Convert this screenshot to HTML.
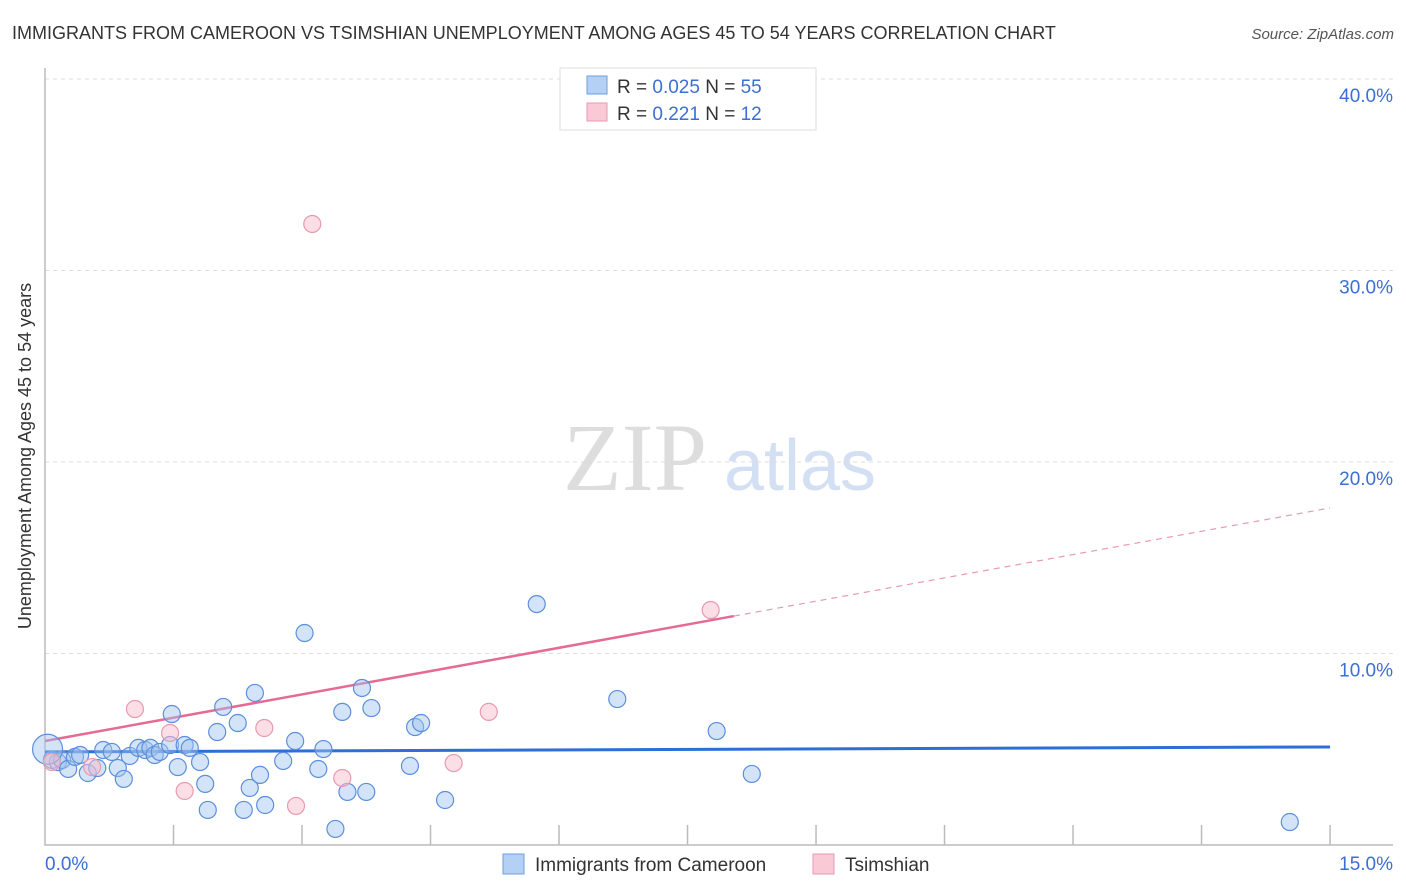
<!DOCTYPE html>
<html><head><meta charset="utf-8"><style>
body{margin:0;background:#fff;font-family:"Liberation Sans",sans-serif;}
svg{display:block}
</style></head><body>
<svg id="c" width="1406" height="892" xmlns="http://www.w3.org/2000/svg">
<text x="12" y="39" font-size="18" fill="#333">IMMIGRANTS FROM CAMEROON VS TSIMSHIAN UNEMPLOYMENT AMONG AGES 45 TO 54 YEARS CORRELATION CHART</text>
<text x="1394" y="39" font-size="15" fill="#555" font-style="italic" text-anchor="end">Source: ZipAtlas.com</text>
<text x="31" y="456" font-size="18" fill="#333" text-anchor="middle" transform="rotate(-90 31 456)">Unemployment Among Ages 45 to 54 years</text>
<g><text x="635" y="490" font-size="96" fill="#ddd" font-family="Liberation Serif,serif" text-anchor="middle">ZIP</text><text x="800" y="490" font-size="72" fill="#d3e0f3" text-anchor="middle">atlas</text></g>
<g id="grid"></g><g id="axes"></g><g id="lines"></g><g id="pts"></g>
<g>
<rect x="560" y="68" width="256" height="62" fill="#fff" stroke="#ddd"/>
<rect x="587" y="76" width="20" height="18" fill="#b5d0f5" stroke="#6d9de0"/>
<rect x="587" y="103" width="20" height="18" fill="#f9c9d6" stroke="#e89ab0"/>
<text x="617" y="93" font-size="19" fill="#333">R = <tspan fill="#3b6fd4">0.025</tspan>   N = <tspan fill="#3b6fd4">55</tspan></text>
<text x="617" y="120" font-size="19" fill="#333">R =  <tspan fill="#3b6fd4">0.221</tspan>   N =  <tspan fill="#3b6fd4">12</tspan></text>
</g>
<g>
<rect x="503" y="854" width="21" height="20" fill="#b5d0f5" stroke="#6d9de0"/>
<text x="535" y="871" font-size="19" fill="#333">Immigrants from Cameroon</text>
<rect x="813" y="854" width="21" height="20" fill="#f9c9d6" stroke="#e89ab0"/>
<text x="845" y="871" font-size="19" fill="#333">Tsimshian</text>
</g>
</svg>
<script>
const blueX=[0.08,0.15,0.20,0.27,0.35,0.41,0.50,0.61,0.68,0.78,0.85,0.92,0.99,1.09,1.17,1.23,1.28,1.34,1.48,1.46,1.55,1.63,1.69,1.81,1.87,1.90,2.01,2.08,2.25,2.32,2.39,2.45,2.51,2.57,2.78,2.92,3.03,3.19,3.25,3.39,3.47,3.53,3.70,3.75,3.81,4.26,4.32,4.39,4.67,5.74,6.68,7.84,8.25,14.53,0.03];
const blueY=[4.44,4.33,4.44,3.97,4.60,4.70,3.76,4.02,4.96,4.86,4.02,3.45,4.65,5.07,4.96,5.07,4.70,4.86,6.84,5.22,4.07,5.22,5.07,4.33,3.19,1.83,5.90,7.21,6.37,1.83,2.98,7.94,3.66,2.09,4.39,5.43,11.07,3.97,5.01,0.84,6.95,2.77,8.20,2.77,7.15,4.13,6.16,6.37,2.35,12.58,7.62,5.95,3.71,1.20,5.0];
const pinkX=[0.08,0.55,1.05,1.46,1.63,2.56,2.93,3.12,3.47,4.77,5.18,7.77];
const pinkY=[4.33,4.07,7.10,5.85,2.82,6.11,2.04,32.43,3.50,4.28,6.95,12.27];
const blueTrend=[4.86,5.12];
const pinkTrend=[5.43,17.6];
const yTicks=[10,20,30,40];
const xTickLabels=["0.0%","15.0%"];
const X=v=>45+v*85.67, Y=v=>845-v*19.15;
const NS="http://www.w3.org/2000/svg";
function mk(p,t,a){const e=document.createElementNS(NS,t);for(const k in a)e.setAttribute(k,a[k]);p.appendChild(e);return e;}
const grid=document.getElementById('grid'),axes=document.getElementById('axes'),lines=document.getElementById('lines'),pts=document.getElementById('pts');
yTicks.forEach(v=>{
 const l=mk(grid,'line',{x1:45,x2:1393,y1:Y(v),y2:Y(v),stroke:'#ddd','stroke-dasharray':'4 4'});
 
 
 const t=mk(grid,'text',{x:1393,y:Y(v)+23,'font-size':19,fill:'#3b6fd4','text-anchor':'end'});
 t.textContent=v.toFixed(1)+'%';
 
 
});
const ax=mk(axes,'path',{d:'M45 68V845H1393',fill:'none',stroke:'#bbb','stroke-width':1.5});


for(let i=1;i<=10;i++){const x=X(i*1.5);
 const t=mk(axes,'line',{x1:x,x2:x,y1:825,y2:845,stroke:'#bbb','stroke-width':1.5});
 
 }
const xl0=mk(axes,'text',{x:45,y:870,'font-size':19,fill:'#3b6fd4'});xl0.textContent=xTickLabels[0];


const xl1=mk(axes,'text',{x:1393,y:870,'font-size':19,fill:'#3b6fd4','text-anchor':'end'});xl1.textContent=xTickLabels[1];


blueX.forEach((x,i)=>{const big=i===blueX.length-1;
 const c=mk(pts,'circle',{cx:X(x),cy:Y(blueY[i]),r:big?15:8.5,fill:'rgba(160,195,240,0.45)',stroke:'#5b8fdc','stroke-width':1.2});
 
 });
pinkX.forEach((x,i)=>{
 const c=mk(pts,'circle',{cx:X(x),cy:Y(pinkY[i]),r:8.5,fill:'rgba(248,190,205,0.5)',stroke:'#e99ab2','stroke-width':1.2});
 
 });
const bl=mk(lines,'line',{x1:X(0),y1:Y(blueTrend[0]),x2:X(15),y2:Y(blueTrend[1]),stroke:'#2d6fd6','stroke-width':3});


const pAt=x=>pinkTrend[0]+(pinkTrend[1]-pinkTrend[0])*x/15;
const solidEnd=Math.max(...pinkX)*1.035;
const pl=mk(lines,'line',{x1:X(0),y1:Y(pAt(0)),x2:X(solidEnd),y2:Y(pAt(solidEnd)),stroke:'#e56a95','stroke-width':2.5});


const pd=mk(lines,'line',{x1:X(solidEnd),y1:Y(pAt(solidEnd)),x2:X(15),y2:Y(pAt(15)),stroke:'#e89ab0','stroke-width':1.2,'stroke-dasharray':'6 5'});


</script>
</body></html>
